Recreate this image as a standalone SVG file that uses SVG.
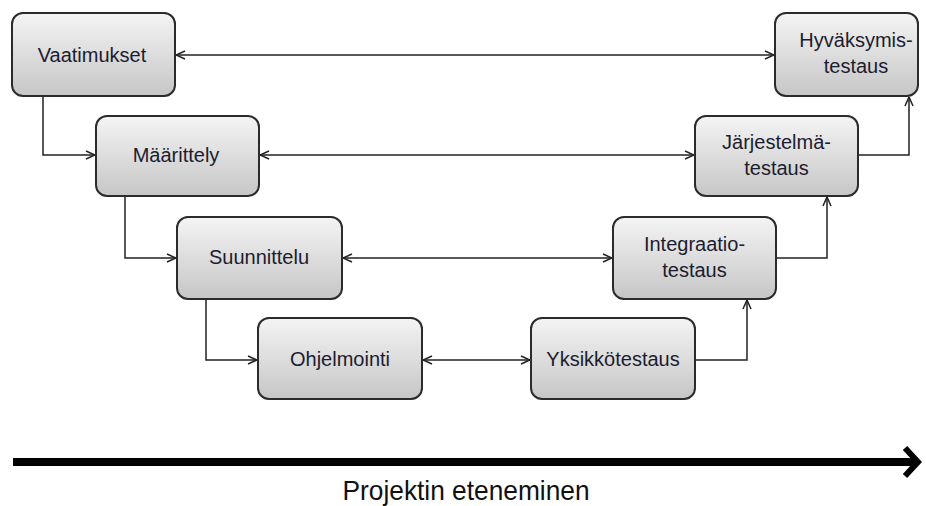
<svg xmlns="http://www.w3.org/2000/svg" width="926" height="506" viewBox="0 0 926 506">
<defs>
<linearGradient id="g" x1="0" y1="0" x2="0" y2="1">
<stop offset="0" stop-color="#f4f4f4"/>
<stop offset="1" stop-color="#c6c6c6"/>
</linearGradient>
<marker id="ah" viewBox="0 0 10 10" refX="10" refY="5" markerWidth="10" markerHeight="10" markerUnits="userSpaceOnUse" orient="auto-start-reverse">
<path d="M1,1 L10,5 L1,9" fill="none" stroke="#222" stroke-width="1.5"/>
</marker>
<marker id="big" viewBox="0 0 20 34" refX="16" refY="17" markerWidth="20" markerHeight="34" markerUnits="userSpaceOnUse" orient="auto">
<path d="M3,3 L16,17 L3,31" fill="none" stroke="#000" stroke-width="6"/>
</marker>
</defs>
<style>
.box{fill:url(#g);stroke:#2b2b2b;stroke-width:2}
.t{font-family:"Liberation Sans",Arial,sans-serif;font-size:20px;fill:#1c1c30;text-anchor:middle}
.c{fill:none;stroke:#222;stroke-width:1.5}
</style>
<g id="connectors">
<path class="c" d="M43,97 V155 H95" marker-end="url(#ah)"/>
<path class="c" d="M125,197 V258 H176" marker-end="url(#ah)"/>
<path class="c" d="M206,300 V360 H257" marker-end="url(#ah)"/>
<path class="c" d="M696,360 H747 V300" marker-end="url(#ah)"/>
<path class="c" d="M777,258 H827 V197" marker-end="url(#ah)"/>
<path class="c" d="M859,155 H909 V97" marker-end="url(#ah)"/>
<path class="c" d="M176,55 H774" marker-start="url(#ah)" marker-end="url(#ah)"/>
<path class="c" d="M260,155 H694" marker-start="url(#ah)" marker-end="url(#ah)"/>
<path class="c" d="M343,258 H612" marker-start="url(#ah)" marker-end="url(#ah)"/>
<path class="c" d="M423,360 H530" marker-start="url(#ah)" marker-end="url(#ah)"/>
</g>
<g id="vaatimukset"><rect class="box" x="12" y="13" width="163" height="83" rx="11"/><text class="t" x="92" y="62">Vaatimukset</text></g>
<g id="maarittely"><rect class="box" x="96" y="116" width="163" height="80" rx="11"/><text class="t" x="176" y="162">Määrittely</text></g>
<g id="suunnittelu"><rect class="box" x="177" y="217" width="165" height="82" rx="11"/><text class="t" x="259" y="264">Suunnittelu</text></g>
<g id="ohjelmointi"><rect class="box" x="258" y="318" width="164" height="81" rx="11"/><text class="t" x="340" y="366">Ohjelmointi</text></g>
<g id="yksikkotestaus"><rect class="box" x="531" y="318" width="164" height="81" rx="11"/><text class="t" x="613" y="366">Yksikkötestaus</text></g>
<g id="integraatiotestaus"><rect class="box" x="613" y="217" width="163" height="82" rx="11"/><text class="t" x="694.5" y="251">Integraatio-</text><text class="t" x="694.5" y="277">testaus</text></g>
<g id="jarjestelmatestaus"><rect class="box" x="695" y="116" width="163" height="80" rx="11"/><text class="t" x="776.5" y="149">Järjestelmä-</text><text class="t" x="776.5" y="175">testaus</text></g>
<g id="hyvaksymistestaus"><rect class="box" x="775" y="13" width="143" height="83" rx="11"/><text class="t" x="856" y="47">Hyväksymis-</text><text class="t" x="856" y="73">testaus</text></g>
<g id="timeline">
<path d="M13,462 H918" stroke="#000" stroke-width="8" fill="none" marker-end="url(#big)"/>
<text x="466" y="500" font-family="'Liberation Sans',Arial,sans-serif" font-size="28" fill="#111" text-anchor="middle" textLength="247" lengthAdjust="spacingAndGlyphs">Projektin eteneminen</text>
</g>
</svg>
